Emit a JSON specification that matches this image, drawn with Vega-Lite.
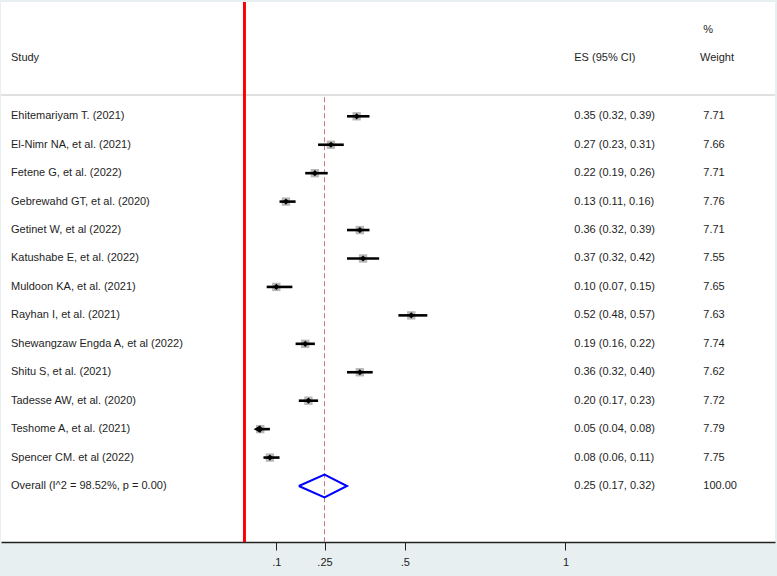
{
  "$schema": "https://vega.github.io/schema/vega-lite/v6.json",
  "width": 774,
  "height": 540,
  "autosize": "none",
  "padding": {"left": 1, "top": 2, "right": 2, "bottom": 34},
  "background": "#e8eff1",
  "config": {
    "view": {"stroke": null, "fill": "white"},
    "axisY": {"disable": true},
    "axisX": {
      "grid": false,
      "domainColor": "#222222",
      "domainWidth": 1.6,
      "tickColor": "#222222",
      "tickWidth": 1,
      "tickSize": 8,
      "labelFont": "Liberation Sans",
      "labelFontSize": 11,
      "labelColor": "#222222",
      "labelPadding": 6,
      "labelFlush": false
    },
    "text": {"font": "Liberation Sans", "fontSize": 11, "color": "#1e1e1e", "align": "left", "baseline": "middle"}
  },
  "datasets": {
    "studies": [
      {"row": 1, "study": "Ehitemariyam T.  (2021)", "es": 0.35, "lo": 0.32, "hi": 0.39, "esci": "0.35 (0.32, 0.39)", "weight": "7.71"},
      {"row": 2, "study": "El-Nimr NA, et al.  (2021)", "es": 0.27, "lo": 0.23, "hi": 0.31, "esci": "0.27 (0.23, 0.31)", "weight": "7.66"},
      {"row": 3, "study": "Fetene G, et al. (2022)", "es": 0.22, "lo": 0.19, "hi": 0.26, "esci": "0.22 (0.19, 0.26)", "weight": "7.71"},
      {"row": 4, "study": "Gebrewahd GT, et al.  (2020)", "es": 0.13, "lo": 0.11, "hi": 0.16, "esci": "0.13 (0.11, 0.16)", "weight": "7.76"},
      {"row": 5, "study": "Getinet W, et al  (2022)", "es": 0.36, "lo": 0.32, "hi": 0.39, "esci": "0.36 (0.32, 0.39)", "weight": "7.71"},
      {"row": 6, "study": "Katushabe E, et al.  (2022)", "es": 0.37, "lo": 0.32, "hi": 0.42, "esci": "0.37 (0.32, 0.42)", "weight": "7.55"},
      {"row": 7, "study": "Muldoon KA, et al.  (2021)", "es": 0.10, "lo": 0.07, "hi": 0.15, "esci": "0.10 (0.07, 0.15)", "weight": "7.65"},
      {"row": 8, "study": "Rayhan I, et al.  (2021)", "es": 0.52, "lo": 0.48, "hi": 0.57, "esci": "0.52 (0.48, 0.57)", "weight": "7.63"},
      {"row": 9, "study": "Shewangzaw Engda A, et al (2022)", "es": 0.19, "lo": 0.16, "hi": 0.22, "esci": "0.19 (0.16, 0.22)", "weight": "7.74"},
      {"row": 10, "study": "Shitu S,  et al. (2021)", "es": 0.36, "lo": 0.32, "hi": 0.40, "esci": "0.36 (0.32, 0.40)", "weight": "7.62"},
      {"row": 11, "study": "Tadesse AW, et al. (2020)", "es": 0.20, "lo": 0.17, "hi": 0.23, "esci": "0.20 (0.17, 0.23)", "weight": "7.72"},
      {"row": 12, "study": "Teshome A, et al.  (2021)", "es": 0.05, "lo": 0.04, "hi": 0.08, "esci": "0.05 (0.04, 0.08)", "weight": "7.79"},
      {"row": 13, "study": "Spencer CM. et al (2022)", "es": 0.08, "lo": 0.06, "hi": 0.11, "esci": "0.08 (0.06, 0.11)", "weight": "7.75"},
      {"row": 14, "study": "Overall  (I^2 = 98.52%, p = 0.00)", "es": 0.25, "lo": 0.17, "hi": 0.32, "esci": "0.25 (0.17, 0.32)", "weight": "100.00"}
    ],
    "diamond": [
      {"k": 0, "x": 0.17, "v": 0},
      {"k": 1, "x": 0.25, "v": -1},
      {"k": 2, "x": 0.32, "v": 0},
      {"k": 3, "x": 0.25, "v": 1},
      {"k": 4, "x": 0.17, "v": 0}
    ],
    "headers": [
      {"label": "Study", "col": "study", "line": 1},
      {"label": "ES (95% CI)", "col": "es", "line": 1},
      {"label": "Weight", "col": "weight", "line": 1},
      {"label": "%", "col": "weightpct", "line": 0}
    ]
  },
  "data": {"name": "studies"},
  "layer": [
    {
      "mark": {"type": "rule", "color": "#e0e0e0", "strokeWidth": 2},
      "encoding": {
        "y": {"datum": 0.251, "type": "quantitative", "scale": {"domain": [-3.019, 15.969], "reverse": true, "nice": false, "zero": false}}
      }
    },
    {
      "mark": {"type": "rule", "color": "#ff0000", "strokeWidth": 2},
      "encoding": {
        "x": {"datum": 0, "type": "quantitative", "scale": {"domain": [-0.7569, 1.6521], "nice": false, "zero": false}}
      }
    },
    {
      "transform": [{"filter": "datum.row == 14"}],
      "mark": {"type": "rule", "color": "#c47a7a", "strokeWidth": 1, "strokeDash": [5, 3]},
      "encoding": {
        "x": {"field": "es", "type": "quantitative", "title": null, "scale": {"domain": [-0.7569, 1.6521], "nice": false, "zero": false}},
        "y": {"datum": 0.33, "type": "quantitative", "scale": {"domain": [-3.019, 15.969], "reverse": true, "nice": false, "zero": false}},
        "y2": {"datum": 15.969}
      }
    },
    {
      "transform": [{"filter": "datum.row < 14"}],
      "mark": {"type": "point", "shape": "square", "filled": true, "color": "#b0b0b0", "opacity": 0.9, "size": 70},
      "encoding": {
        "x": {"field": "es", "type": "quantitative", "title": null, "scale": {"domain": [-0.7569, 1.6521], "nice": false, "zero": false}},
        "y": {"field": "row", "type": "quantitative", "title": null, "scale": {"domain": [-3.019, 15.969], "reverse": true, "nice": false, "zero": false}}
      }
    },
    {
      "transform": [{"filter": "datum.row < 14"}],
      "mark": {"type": "rule", "color": "black", "strokeWidth": 2.6},
      "encoding": {
        "x": {
          "field": "lo", "type": "quantitative", "title": null,
          "scale": {"domain": [-0.7569, 1.6521], "nice": false, "zero": false},
          "axis": {
            "values": [0.1, 0.25, 0.5, 1],
            "labelExpr": "datum.value < 1 ? slice(format(datum.value, '~g'), 1) : format(datum.value, '~g')",
            "title": null
          }
        },
        "x2": {"field": "hi"},
        "y": {"field": "row", "type": "quantitative", "title": null, "scale": {"domain": [-3.019, 15.969], "reverse": true, "nice": false, "zero": false}}
      }
    },
    {
      "transform": [{"filter": "datum.row < 14"}],
      "mark": {"type": "point", "shape": "diamond", "filled": true, "color": "black", "opacity": 1, "size": 38},
      "encoding": {
        "x": {"field": "es", "type": "quantitative", "title": null, "scale": {"domain": [-0.7569, 1.6521], "nice": false, "zero": false}},
        "y": {"field": "row", "type": "quantitative", "title": null, "scale": {"domain": [-3.019, 15.969], "reverse": true, "nice": false, "zero": false}}
      }
    },
    {
      "transform": [{"filter": "datum.row == 12"}],
      "mark": {"type": "point", "shape": "triangle-left", "filled": true, "color": "black", "opacity": 1, "size": 60},
      "encoding": {
        "x": {"field": "lo", "type": "quantitative", "title": null, "scale": {"domain": [-0.7569, 1.6521], "nice": false, "zero": false}},
        "y": {"field": "row", "type": "quantitative", "title": null, "scale": {"domain": [-3.019, 15.969], "reverse": true, "nice": false, "zero": false}}
      }
    },
    {
      "data": {"name": "diamond"},
      "mark": {"type": "line", "color": "#0000ff", "strokeWidth": 2},
      "encoding": {
        "x": {"field": "x", "type": "quantitative", "title": null, "scale": {"domain": [-0.7569, 1.6521], "nice": false, "zero": false}},
        "y": {"datum": 14, "type": "quantitative", "scale": {"domain": [-3.019, 15.969], "reverse": true, "nice": false, "zero": false}},
        "yOffset": {"field": "v", "type": "quantitative", "scale": {"domain": [-1, 1], "range": [-11.3, 11.3]}},
        "order": {"field": "k"}
      }
    },
    {
      "mark": {"type": "text"},
      "encoding": {
        "x": {"datum": -0.7258, "type": "quantitative", "scale": {"domain": [-0.7569, 1.6521], "nice": false, "zero": false}},
        "y": {"field": "row", "type": "quantitative", "title": null, "scale": {"domain": [-3.019, 15.969], "reverse": true, "nice": false, "zero": false}},
        "text": {"field": "study"}
      }
    },
    {
      "mark": {"type": "text"},
      "encoding": {
        "x": {"datum": 1.0274, "type": "quantitative", "scale": {"domain": [-0.7569, 1.6521], "nice": false, "zero": false}},
        "y": {"field": "row", "type": "quantitative", "title": null, "scale": {"domain": [-3.019, 15.969], "reverse": true, "nice": false, "zero": false}},
        "text": {"field": "esci"}
      }
    },
    {
      "mark": {"type": "text"},
      "encoding": {
        "x": {"datum": 1.4289, "type": "quantitative", "scale": {"domain": [-0.7569, 1.6521], "nice": false, "zero": false}},
        "y": {"field": "row", "type": "quantitative", "title": null, "scale": {"domain": [-3.019, 15.969], "reverse": true, "nice": false, "zero": false}},
        "text": {"field": "weight"}
      }
    },
    {
      "data": {"name": "headers"},
      "transform": [{"filter": "datum.col == 'study'"}],
      "mark": {"type": "text"},
      "encoding": {
        "x": {"datum": -0.7258, "type": "quantitative", "scale": {"domain": [-0.7569, 1.6521], "nice": false, "zero": false}},
        "y": {"datum": -1.05, "type": "quantitative", "scale": {"domain": [-3.019, 15.969], "reverse": true, "nice": false, "zero": false}},
        "text": {"field": "label"}
      }
    },
    {
      "data": {"name": "headers"},
      "transform": [{"filter": "datum.col == 'es'"}],
      "mark": {"type": "text"},
      "encoding": {
        "x": {"datum": 1.0274, "type": "quantitative", "scale": {"domain": [-0.7569, 1.6521], "nice": false, "zero": false}},
        "y": {"datum": -1.05, "type": "quantitative", "scale": {"domain": [-3.019, 15.969], "reverse": true, "nice": false, "zero": false}},
        "text": {"field": "label"}
      }
    },
    {
      "data": {"name": "headers"},
      "transform": [{"filter": "datum.col == 'weight'"}],
      "mark": {"type": "text"},
      "encoding": {
        "x": {"datum": 1.4185, "type": "quantitative", "scale": {"domain": [-0.7569, 1.6521], "nice": false, "zero": false}},
        "y": {"datum": -1.05, "type": "quantitative", "scale": {"domain": [-3.019, 15.969], "reverse": true, "nice": false, "zero": false}},
        "text": {"field": "label"}
      }
    },
    {
      "data": {"name": "headers"},
      "transform": [{"filter": "datum.col == 'weightpct'"}],
      "mark": {"type": "text"},
      "encoding": {
        "x": {"datum": 1.4289, "type": "quantitative", "scale": {"domain": [-0.7569, 1.6521], "nice": false, "zero": false}},
        "y": {"datum": -2.034, "type": "quantitative", "scale": {"domain": [-3.019, 15.969], "reverse": true, "nice": false, "zero": false}},
        "text": {"field": "label"}
      }
    }
  ]
}
